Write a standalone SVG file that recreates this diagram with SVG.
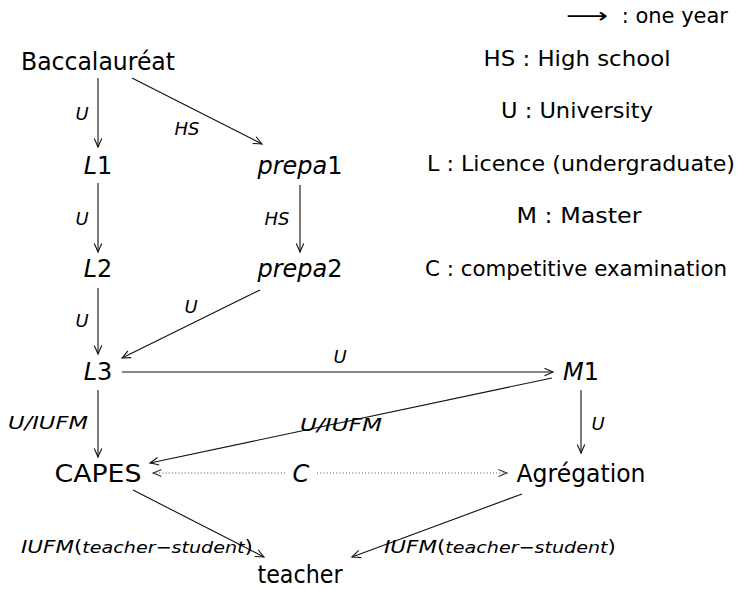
<svg xmlns="http://www.w3.org/2000/svg" width="739" height="589" viewBox="0 0 739 589">
<style>
text { font-family: "DejaVu Sans", "Liberation Sans", sans-serif; fill: #000; }
.node { font-size: 24px; text-anchor: middle; }
.it { font-style: italic; }
.lbl { font-size: 18px; font-style: italic; text-anchor: middle; }
.leg { font-size: 21px; text-anchor: middle; }
.edge { stroke: #111; stroke-width: 1.1; fill: none; marker-end: url(#ah); }
.dot { stroke: #555; stroke-width: 1.1; fill: none; stroke-dasharray: 1 2.2; marker-end: url(#ahd); }
</style>
<defs>
<marker id="ah" markerUnits="userSpaceOnUse" markerWidth="14" markerHeight="12" viewBox="0 0 14 12" refX="11" refY="6" orient="auto" overflow="visible">
<path d="M2.5,2.2 Q7.5,4.6 11,6 Q7.5,7.4 2.5,9.8" fill="none" stroke="#111" stroke-width="1.1"/>
</marker>
<marker id="ahd" markerUnits="userSpaceOnUse" markerWidth="14" markerHeight="12" viewBox="0 0 14 12" refX="11" refY="6" orient="auto" overflow="visible">
<path d="M2.5,2.6 Q7.5,4.8 11,6 Q7.5,7.2 2.5,9.4" fill="none" stroke="#333" stroke-width="1.1"/>
</marker>
</defs>

<g id="legend">
<text class="leg" x="566" y="23" style="text-anchor:start" textLength="42" lengthAdjust="spacingAndGlyphs">⟶</text>
<text class="leg" x="728" y="23" style="text-anchor:end">: one year</text>
<text class="leg" x="577" y="66" textLength="187" lengthAdjust="spacingAndGlyphs">HS : High school</text>
<text class="leg" x="577" y="118" textLength="152" lengthAdjust="spacingAndGlyphs">U : University</text>
<text class="leg" x="581" y="171" textLength="308" lengthAdjust="spacingAndGlyphs">L : Licence (undergraduate)</text>
<text class="leg" x="579" y="223" textLength="125" lengthAdjust="spacingAndGlyphs">M : Master</text>
<text class="leg" x="576" y="276" textLength="302" lengthAdjust="spacingAndGlyphs">C : competitive examination</text>
</g>

<g id="connectors">
<line class="edge" x1="98" y1="78" x2="98" y2="147"/>
<line class="edge" x1="132" y1="78" x2="262" y2="144"/>
<line class="edge" x1="98" y1="183" x2="98" y2="252"/>
<line class="edge" x1="300" y1="185" x2="300" y2="252"/>
<line class="edge" x1="98" y1="288" x2="98" y2="354"/>
<line class="edge" x1="260" y1="290" x2="122" y2="358"/>
<line class="edge" x1="122" y1="372" x2="553" y2="372"/>
<line class="edge" x1="98" y1="390" x2="98" y2="457"/>
<line class="edge" x1="552" y1="378" x2="150" y2="463"/>
<line class="edge" x1="581" y1="390" x2="581" y2="453"/>
<line class="dot" x1="285" y1="473" x2="153" y2="473"/>
<line class="dot" x1="317" y1="473" x2="507" y2="473"/>
<line class="edge" x1="133" y1="490" x2="264" y2="557"/>
<line class="edge" x1="522" y1="494" x2="352" y2="557"/>
<text class="lbl" x="82" y="120">U</text>
<text class="lbl" x="187" y="135">HS</text>
<text class="lbl" x="82" y="225">U</text>
<text class="lbl" x="277" y="225">HS</text>
<text class="lbl" x="82" y="327">U</text>
<text class="lbl" x="191" y="313">U</text>
<text class="lbl" x="340" y="363">U</text>
<text class="lbl" x="48" y="429" textLength="80" lengthAdjust="spacingAndGlyphs">U/IUFM</text>
<text class="lbl" x="341" y="431" textLength="82" lengthAdjust="spacingAndGlyphs">U/IUFM</text>
<text class="lbl" x="598" y="430">U</text>
<text class="lbl" x="137" y="553" textLength="232" lengthAdjust="spacingAndGlyphs">IUFM<tspan style="font-style:normal">(</tspan><tspan style="font-size:16px">teacher</tspan><tspan style="font-style:normal;font-size:16px">−</tspan><tspan style="font-size:16px">student</tspan><tspan style="font-style:normal">)</tspan></text>
<text class="lbl" x="500" y="553" textLength="232" lengthAdjust="spacingAndGlyphs">IUFM<tspan style="font-style:normal">(</tspan><tspan style="font-size:16px">teacher</tspan><tspan style="font-style:normal;font-size:16px">−</tspan><tspan style="font-size:16px">student</tspan><tspan style="font-style:normal">)</tspan></text>
</g>

<g id="baccalaureat"><text class="node" x="98" y="70" textLength="154" lengthAdjust="spacingAndGlyphs">Baccalauréat</text></g>
<g id="L1"><text class="node" x="98" y="174"><tspan class="it">L</tspan>1</text></g>
<g id="prepa1"><text class="node" x="300" y="174"><tspan class="it">prepa</tspan>1</text></g>
<g id="L2"><text class="node" x="98" y="277"><tspan class="it">L</tspan>2</text></g>
<g id="prepa2"><text class="node" x="300" y="277"><tspan class="it">prepa</tspan>2</text></g>
<g id="L3"><text class="node" x="98" y="380"><tspan class="it">L</tspan>3</text></g>
<g id="M1"><text class="node" x="581" y="380"><tspan class="it">M</tspan>1</text></g>
<g id="CAPES"><text class="node" x="98" y="482" textLength="87" lengthAdjust="spacingAndGlyphs">CAPES</text></g>
<g id="C"><text class="node it" x="301" y="482">C</text></g>
<g id="agregation"><text class="node" x="581" y="482" textLength="129" lengthAdjust="spacingAndGlyphs">Agrégation</text></g>
<g id="teacher"><text class="node" x="300" y="583" textLength="85" lengthAdjust="spacingAndGlyphs">teacher</text></g>
</svg>
